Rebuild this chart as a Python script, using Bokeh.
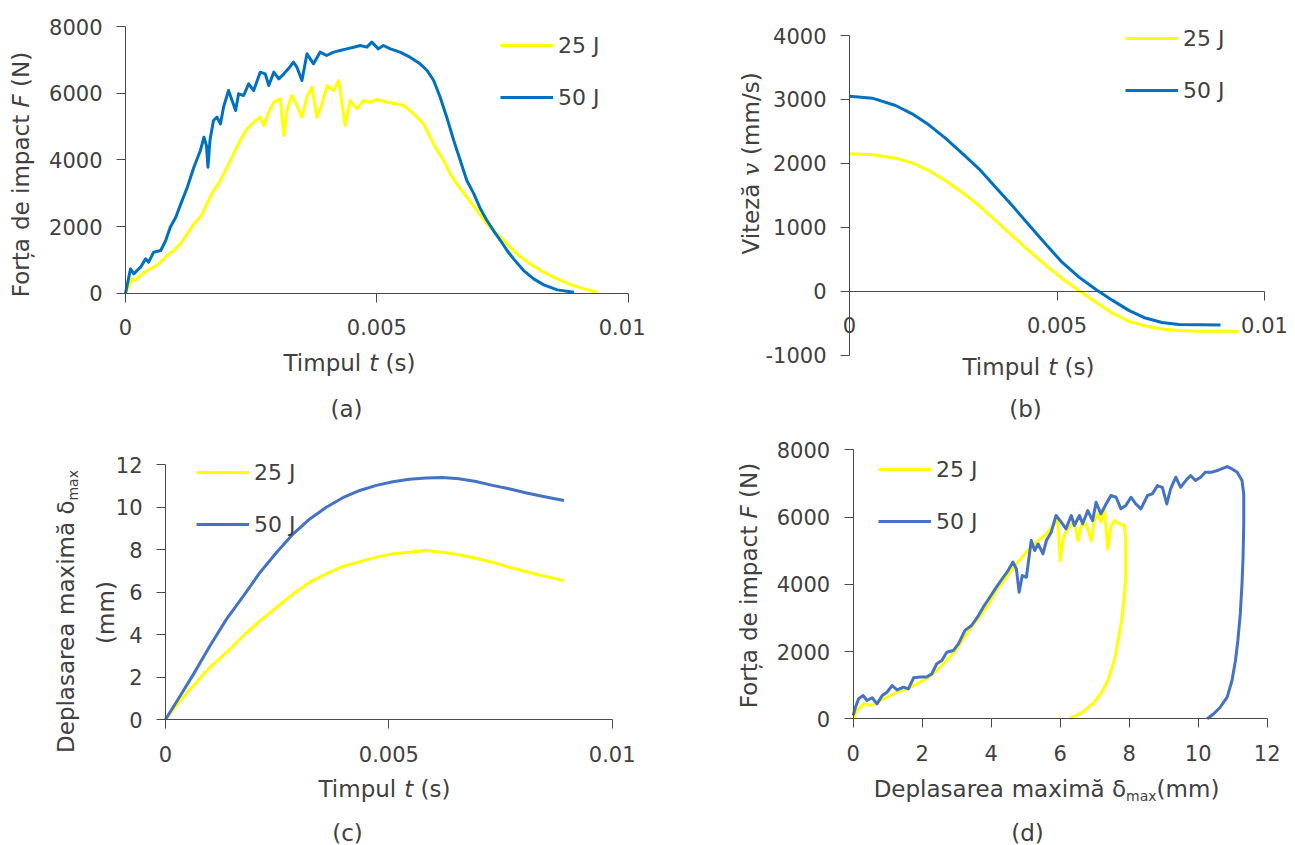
import math
from bokeh.plotting import figure
from bokeh.models import Range1d, FixedTicker, NumeralTickFormatter, Legend, LegendItem, Label
from bokeh.layouts import column, row
from bokeh.embed import file_html
from bokeh.resources import INLINE

# ---------------- data ----------------
series_labels = ["25 J", "50 J"]

# (a) impact force vs time
t_force_25 = [0, 0.00007, 0.00013, 0.0002, 0.0003, 0.00043, 0.00056, 0.0007, 0.00083, 0.00096, 0.00109,
              0.00123, 0.00136, 0.00149, 0.00162, 0.00175, 0.00189, 0.00202, 0.00215, 0.00228, 0.00242,
              0.00255, 0.00268, 0.00275, 0.00285, 0.00295, 0.00308, 0.00315, 0.00321, 0.00331, 0.00341,
              0.00351, 0.00361, 0.00371, 0.00381, 0.00391, 0.00401, 0.00414, 0.00424, 0.0043, 0.00437,
              0.00447, 0.0046, 0.00474, 0.00487, 0.005, 0.0052, 0.0054, 0.00553, 0.00566, 0.0058, 0.00593,
              0.00606, 0.0062, 0.00633, 0.00646, 0.00659, 0.00679, 0.00699, 0.00719, 0.00739, 0.00759,
              0.00779, 0.00805, 0.00832, 0.00859, 0.00885, 0.00912, 0.00938]
force_25 = [0, 230, 430, 380, 530, 680, 780, 930, 1130, 1280, 1480,
            1780, 2080, 2280, 2680, 3080, 3380, 3780, 4180, 4580, 4930,
            5130, 5280, 5030, 5430, 5730, 5830, 4730, 5480, 5930, 5630,
            5280, 5880, 6180, 5280, 5680, 6230, 6080, 6380, 5780, 5030,
            5780, 5530, 5780, 5730, 5810, 5730, 5680, 5630, 5480, 5280, 5080,
            4680, 4280, 3980, 3580, 3280, 2880, 2480, 2080, 1780, 1480,
            1180, 880, 630, 430, 260, 130, 30]
t_force_50 = [0, 0.0001, 0.000166, 0.00023, 0.0003, 0.0004, 0.00046, 0.00056, 0.0007, 0.0008, 0.00089,
              0.001, 0.0011, 0.00123, 0.00136, 0.00149, 0.00156, 0.00161, 0.00164, 0.00168, 0.00175,
              0.00182, 0.00189, 0.00195, 0.00205, 0.00212, 0.00219, 0.00225, 0.00235, 0.00245, 0.00255,
              0.00268, 0.00278, 0.00285, 0.00295, 0.00305, 0.00315, 0.00324, 0.00334, 0.00341, 0.00351,
              0.00361, 0.00374, 0.00387, 0.004, 0.00414, 0.00427, 0.0044, 0.00454, 0.00467, 0.0048,
              0.0049, 0.00503, 0.00513, 0.00527, 0.00546, 0.00566, 0.00586, 0.006, 0.00613, 0.00626,
              0.00639, 0.00653, 0.00666, 0.00679, 0.00693, 0.00706, 0.00719, 0.00732, 0.00746, 0.00759,
              0.00772, 0.00792, 0.00812, 0.00832, 0.00859, 0.00892]
force_50 = [0, 730, 580, 680, 780, 1030, 930, 1230, 1280, 1580, 1980,
            2280, 2680, 3180, 3780, 4280, 4680, 4430, 3780, 4580, 5180,
            5280, 5080, 5580, 6080, 5780, 5480, 5980, 5930, 6280, 6080,
            6630, 6580, 6230, 6630, 6430, 6580, 6730, 6930, 6780, 6380,
            7180, 6880, 7230, 7130, 7230, 7280, 7330, 7380, 7430, 7380,
            7530, 7330, 7430, 7330, 7230, 7080, 6880, 6680, 6380, 5880,
            5280, 4580, 3980, 3380, 2980, 2530, 2180, 1880, 1580, 1280,
            1030, 680, 430, 250, 100, 30]

# (b) velocity vs time
t_vel_25 = [0, 0.00055, 0.00111, 0.00151, 0.00191, 0.00231, 0.00271, 0.00312, 0.00352, 0.00392, 0.00432,
            0.00472, 0.00512, 0.00553, 0.00593, 0.00633, 0.00673, 0.00713, 0.00753, 0.00794, 0.00842, 0.00938]
vel_25 = [2149, 2133, 2081, 2008, 1888, 1731, 1549, 1340, 1106, 871, 636,
          412, 200, 10, -170, -340, -470, -545, -590, -615, -625, -626]
t_vel_50 = [0, 0.00055, 0.00111, 0.00151, 0.00191, 0.00231, 0.00271, 0.00312, 0.00352, 0.00392, 0.00432,
            0.00472, 0.00512, 0.00553, 0.00593, 0.00633, 0.00673, 0.00713, 0.00753, 0.00794, 0.00894]
vel_50 = [3051, 3020, 2905, 2775, 2602, 2394, 2159, 1914, 1627, 1340, 1038,
          741, 454, 220, 30, -140, -300, -420, -490, -520, -527]

# (c) maximum displacement vs time
t_disp = [0, 0.000334, 0.00063, 0.001, 0.00137, 0.00175, 0.00212, 0.00249, 0.00286, 0.00323, 0.0036,
          0.00397, 0.00435, 0.00472, 0.00509, 0.00546, 0.00583, 0.0062, 0.00657, 0.00695, 0.00732,
          0.00769, 0.00806, 0.00843, 0.00892]
disp_25 = [0, 0.9, 1.6, 2.47, 3.17, 3.96, 4.66, 5.29, 5.92, 6.47, 6.86,
           7.21, 7.44, 7.65, 7.81, 7.88, 7.96, 7.88, 7.76, 7.6, 7.41,
           7.18, 6.97, 6.78, 6.55]
disp_50 = [0, 1.13, 2.15, 3.49, 4.74, 5.84, 6.94, 7.88, 8.75, 9.45, 10.0,
           10.45, 10.79, 11.03, 11.2, 11.32, 11.38, 11.4, 11.34, 11.21, 11.03,
           10.87, 10.68, 10.52, 10.32]

# (d) impact force vs maximum displacement
fd_disp_25 = [0, 0.115, 0.31, 0.5, 0.69, 0.98, 1.27, 1.56, 1.85, 2.13, 2.42, 2.71, 3.0, 3.29, 3.58, 3.87,
              4.15, 4.44, 4.73, 5.02, 5.31, 5.6, 5.79, 5.93, 6.0, 6.08, 6.13, 6.27, 6.41, 6.51, 6.61,
              6.75, 6.9, 6.99, 7.09, 7.18, 7.28, 7.38, 7.47, 7.57, 7.71, 7.86, 7.9, 7.9, 7.86, 7.78,
              7.68, 7.57, 7.38, 7.18, 6.94, 6.65, 6.27]
fd_force_25 = [0, 250, 445, 400, 495, 645, 790, 890, 1040, 1190, 1435, 1735, 2080, 2525, 2925, 3320,
               3815, 4210, 4610, 4955, 5250, 5500, 5750, 5895, 4705, 5300, 5500, 5700, 5895, 5300, 5750,
               5800, 5300, 5895, 6095, 5850, 6290, 5055, 5700, 5895, 5800, 5750, 5300, 4310, 3615, 2925,
               2330, 1735, 1140, 745, 445, 200, 0]
fd_disp_50 = [0, 0.067, 0.16, 0.29, 0.4, 0.55, 0.69, 0.84, 0.98, 1.13, 1.27, 1.46, 1.6, 1.75, 1.94, 2.13,
              2.28, 2.42, 2.57, 2.71, 2.9, 3.05, 3.24, 3.43, 3.63, 3.77, 3.96, 4.15, 4.35, 4.49, 4.63,
              4.73, 4.81, 4.9, 5.02, 5.16, 5.26, 5.36, 5.5, 5.6, 5.74, 5.88, 6.03, 6.17, 6.32, 6.41,
              6.56, 6.65, 6.8, 6.94, 7.04, 7.18, 7.33, 7.47, 7.62, 7.76, 7.9, 8.05, 8.19, 8.34, 8.53,
              8.67, 8.82, 8.96, 9.09, 9.2, 9.35, 9.49, 9.64, 9.78, 9.92, 10.07, 10.21, 10.4, 10.6,
              10.84, 10.98, 11.13, 11.27, 11.32, 11.32, 11.3, 11.27, 11.22, 11.15, 11.08, 10.98,
              10.84, 10.64, 10.45, 10.26]
fd_force_50 = [100, 350, 600, 690, 545, 625, 445, 690, 790, 990, 860, 940, 890, 1220, 1240, 1240,
               1340, 1635, 1735, 1980, 2030, 2230, 2630, 2775, 3070, 3320, 3615, 3915, 4210, 4410, 4660,
               4460, 3765, 4260, 4210, 5300, 5005, 5200, 4905, 5300, 5550, 6045, 5850, 5650, 6045, 5750,
               6045, 5800, 6190, 5895, 6440, 6095, 6390, 6640, 6590, 6245, 6340, 6590, 6390, 6245, 6640,
               6690, 6935, 6885, 6390, 6835, 7185, 6885, 7085, 7235, 7085, 7185, 7335, 7335, 7400,
               7500, 7430, 7335, 7085, 6690, 5800, 4805, 4015, 3120, 2330, 1735, 1140,
               645, 345, 150, 0]

time_ticks = [0, 0.005, 0.01]
force_ticks = [0, 2000, 4000, 6000, 8000]
vel_ticks = [-1000, 0, 1000, 2000, 3000, 4000]
disp_ticks = [0, 2, 4, 6, 8, 10, 12]
fd_disp_ticks = [0, 2, 4, 6, 8, 10, 12]

# ---------------- style ----------------
FONT = "DejaVu Sans"
TXT = "#404040"
AXC = "#4a4a4a"
YEL = "#FFFF00"
BLUE_A = "#0070C0"
BLUE_C = "#4472C4"
LW = 3

CW = {' ': 0.318, '(': 0.390, ')': 0.390, '/': 0.337, 'D': 0.770, 'F': 0.575, 'N': 0.748, 'T': 0.611,
      'V': 0.684, 'a': 0.613, 'ă': 0.613, 'c': 0.550, 'd': 0.635, 'e': 0.615, 'i': 0.278, 'l': 0.278,
      'm': 0.974, 'o': 0.612, 'p': 0.635, 'r': 0.411, 's': 0.521, 't': 0.392, 'ț': 0.392, 'u': 0.634,
      'v': 0.592, 'x': 0.592, 'z': 0.525, 'δ': 0.612}


def tw(s, size):
    return sum(CW.get(c, 0.6) for c in s) * size


class Panel:
    """A figure whose frame fills the whole canvas; axes are pinned with fixed_location."""
    def __init__(self, w, h, ox, oy, xmap, ymap, xt, yt, xfmt, xaxis_at, yaxis_at):
        v0, p0, v1, p1 = xmap
        kx = (v1 - v0) / (p1 - p0)
        xr = (v0 - (p0 - ox) * kx, v0 + (ox + w - p0) * kx)
        u0, q0, u1, q1 = ymap
        ky = (u1 - u0) / (q0 - q1)
        yr = (u0 - (oy + h - q0) * ky, u0 + (q0 - oy) * ky)
        self.ox, self.oy, self.h = ox, oy, h
        p = figure(width=w, height=h, x_range=Range1d(*xr), y_range=Range1d(*yr),
                   output_backend="svg", toolbar_location=None,
                   min_border=0, min_border_left=0, min_border_right=0,
                   min_border_top=0, min_border_bottom=0)
        p.outline_line_color = None
        p.xgrid.visible = False
        p.ygrid.visible = False
        p.xaxis.ticker = FixedTicker(ticks=xt)
        p.yaxis.ticker = FixedTicker(ticks=yt)
        p.xaxis.formatter = NumeralTickFormatter(format=xfmt)
        p.yaxis.formatter = NumeralTickFormatter(format="0")
        p.xaxis.bounds = (min(xt), max(xt))
        p.yaxis.bounds = (min(yt), max(yt))
        p.xaxis.fixed_location = xaxis_at
        p.yaxis.fixed_location = yaxis_at
        for ax in (p.xaxis, p.yaxis):
            ax.axis_line_color = AXC
            ax.axis_line_width = 1
            ax.major_tick_line_color = AXC
            ax.major_tick_out = 9
            ax.major_tick_in = 0
            ax.minor_tick_line_color = None
            ax.major_label_text_font = FONT
            ax.major_label_text_font_size = "21px"
            ax.major_label_text_color = TXT
        p.xaxis.major_label_standoff = 17
        p.yaxis.major_label_standoff = 14
        self.p = p

    def sx(self, X):
        return X - self.ox

    def sy(self, Y):
        return self.oy + self.h - Y

    def text(self, X, Y, s, size, italic=False, align="center", angle=0.0, font=FONT):
        self.p.add_layout(Label(x=self.sx(X), y=self.sy(Y), x_units="screen", y_units="screen",
                                text=s, text_font=font, text_font_size=f"{size}px",
                                text_font_style="italic" if italic else "normal",
                                text_color=TXT, text_align=align, text_baseline="middle",
                                angle=angle))

    def run(self, cx, cy, pieces, vertical=False):
        total = sum(tw(t, s) for t, s, _, _, _ in pieces)
        pos = -total / 2
        for t, s, it, sh, f in pieces:
            w = tw(t, s)
            if t.strip():
                if vertical:
                    self.text(cx + sh, cy - pos, t, s, it, "left", math.pi / 2, f)
                else:
                    self.text(cx + pos, cy + sh, t, s, it, "left", 0.0, f)
            pos += w

    def legend(self, rends, X_left, Y_bottom):
        leg = Legend(items=[LegendItem(label=series_labels[i], renderers=[r]) for i, r in enumerate(rends)],
                     location=(self.sx(X_left), self.sy(Y_bottom)), orientation="vertical",
                     glyph_width=53, glyph_height=32, spacing=20, padding=0, margin=0, label_standoff=5,
                     background_fill_alpha=0, border_line_color=None,
                     label_text_font=FONT, label_text_font_size="22px", label_text_color=TXT)
        self.p.add_layout(leg)


SZ = 23
sp = (" ", SZ, False, 0, FONT)
x_time = [("Timpul", SZ, False, 0, FONT), sp, ("t", SZ, True, 0, FONT), sp, ("(s)", SZ, False, 0, FONT)]
y_force = [("Forța", SZ, False, 0, FONT), sp, ("de", SZ, False, 0, FONT), sp, ("impact", SZ, False, 0, FONT), sp,
           ("F", SZ, True, 0, FONT), sp, ("(N)", SZ, False, 0, FONT)]
y_vel = [("Viteză", SZ, False, 0, FONT), sp, ("v", SZ, True, 0, "DejaVu Serif"), sp, ("(mm/s)", SZ, False, 0, FONT)]
delta_txt = [("Deplasarea", SZ, False, 0, FONT), sp, ("maximă", SZ, False, 0, FONT), sp, ("δ", SZ, False, 0, FONT)]

# ---------------- (a) ----------------
A = Panel(645, 430, 0, 0, (0, 125, 0.01, 627.7), (0, 292.7, 8000, 26),
          time_ticks, force_ticks, "0.[000]", 0, 0)
ra1 = A.p.line(t_force_25, force_25, line_color=YEL, line_width=LW, line_join="round")
ra2 = A.p.line(t_force_50, force_50, line_color=BLUE_A, line_width=LW, line_join="round")
A.legend([ra1, ra2], 500, 113)
A.run(349, 362, x_time)
A.run(20, 174, y_force, vertical=True)
A.text(346, 408, "(a)", SZ)

# ---------------- (b) ----------------
B = Panel(650, 430, 645, 0, (0, 849, 0.01, 1264), (0, 290.7, 4000, 35),
          time_ticks, vel_ticks, "0.[000]", 0, 0)
rb1 = B.p.line(t_vel_25, vel_25, line_color=YEL, line_width=LW, line_join="round")
rb2 = B.p.line(t_vel_50, vel_50, line_color=BLUE_A, line_width=LW, line_join="round")
B.legend([rb1, rb2], 1125, 106)
B.run(1028, 366, x_time)
B.run(750, 163, y_vel, vertical=True)
B.text(1025, 408, "(b)", SZ)

# ---------------- (c) ----------------
C = Panel(645, 415, 0, 430, (0, 165, 0.01, 611.7), (0, 719, 12, 464.3),
          time_ticks, disp_ticks, "0.[000]", 0, 0)
rc1 = C.p.line(t_disp, disp_25, line_color=YEL, line_width=LW, line_join="round")
rc2 = C.p.line(t_disp, disp_50, line_color=BLUE_C, line_width=LW, line_join="round")
C.legend([rc1, rc2], 196, 540)
C.run(384, 788, x_time)
C.run(65, 611, delta_txt + [("max", 14, False, 7, FONT)], vertical=True)
C.text(105, 612, "(mm)", SZ, angle=math.pi / 2)
C.text(347, 832, "(c)", SZ)

# ---------------- (d) ----------------
D = Panel(650, 415, 645, 430, (0, 852.7, 12, 1266.7), (0, 718.3, 8000, 449.3),
          fd_disp_ticks, force_ticks, "0", 0, 0)
rd1 = D.p.line(fd_disp_25, fd_force_25, line_color=YEL, line_width=LW, line_join="round")
rd2 = D.p.line(fd_disp_50, fd_force_50, line_color=BLUE_C, line_width=LW, line_join="round")
D.legend([rd1, rd2], 878, 537)
D.run(1046, 788, delta_txt + [("max", 14, False, 7, FONT), ("(mm)", SZ, False, 0, FONT)])
D.run(748, 585, y_force, vertical=True)
D.text(1027, 832, "(d)", SZ)

layout = column(row(A.p, B.p), row(C.p, D.p))
open("out.html", "w").write(file_html(layout, INLINE))
